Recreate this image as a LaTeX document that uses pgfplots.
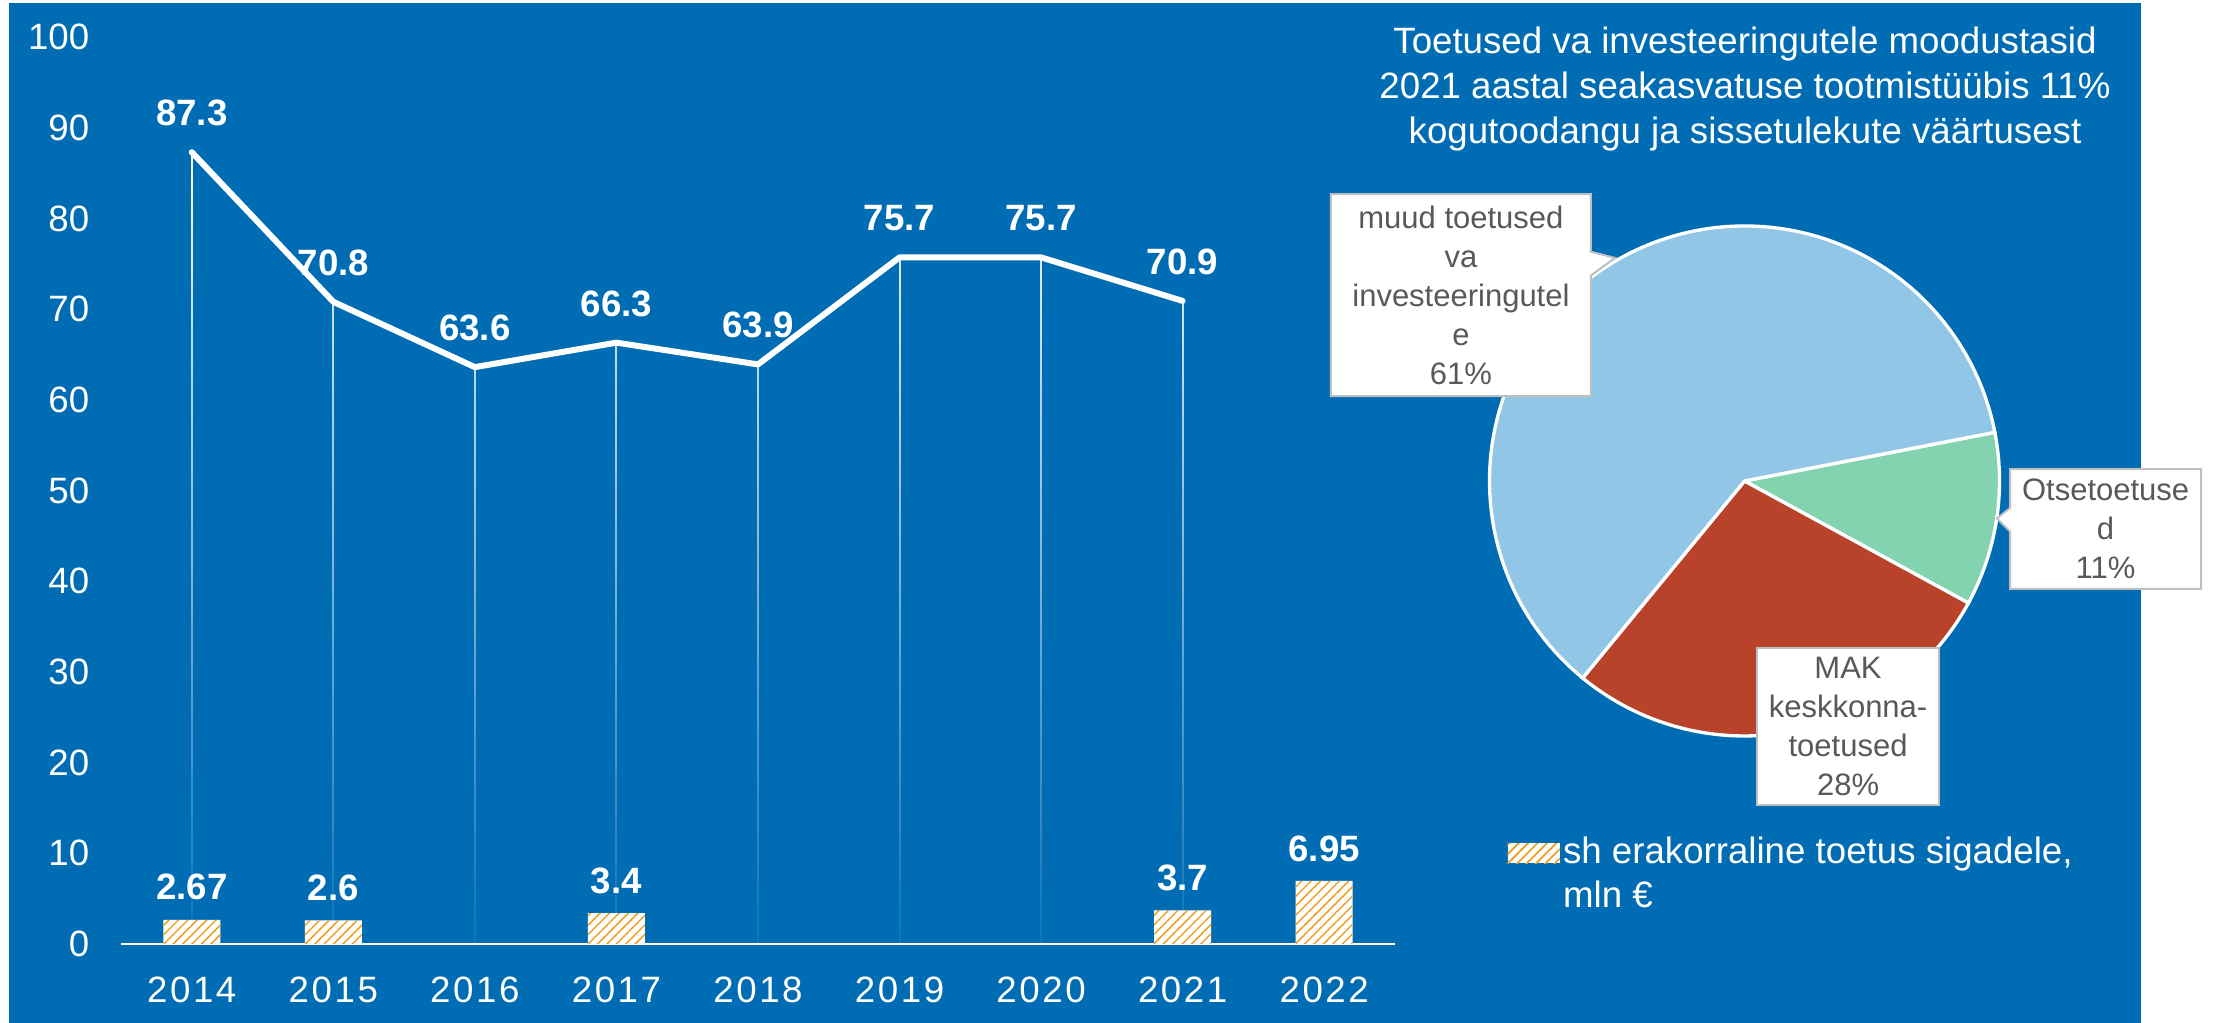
\documentclass[border=0pt]{standalone}
\usepackage{fontspec}
\setmainfont{Liberation Sans}
\newfontfamily\spacedfont[LetterSpace=7]{Liberation Sans}
\usepackage{pgfplots}
\pgfplotsset{compat=1.18}
\usetikzlibrary{patterns.meta,fadings,shapes.callouts}

\definecolor{bgblue}{RGB}{0,108,180}
\definecolor{hatch}{RGB}{240,160,40}
\definecolor{pieBlue}{RGB}{146,198,230}
\definecolor{pieGreen}{RGB}{132,211,176}
\definecolor{pieRed}{RGB}{185,67,42}
\definecolor{lblgray}{RGB}{89,89,89}
\definecolor{boxgray}{RGB}{191,191,191}

\tikzfading[name=dropfade, bottom color=transparent!95, top color=transparent!0]

\tikzset{hatchfill/.style={fill=white, postaction={pattern={Lines[angle=45,distance=2pt,line width=0.45pt]}, pattern color=hatch}}}

\begin{document}
\begin{tikzpicture}
\useasboundingbox (0,0) rectangle (666.3pt,306.9pt);
\fill[white] (0,0) rectangle (666.3pt,306.9pt);
\fill[bgblue] (2.7pt,0) rectangle (642.3pt,306pt);

\begin{axis}[
  at={(36.3pt,23.7pt)}, anchor=south west,
  scale only axis, width=382.2pt, height=272.1pt,
  xmin=-0.5, xmax=8.5, ymin=0, ymax=100,
  axis x line*=bottom, axis y line*=left,
  x axis line style={white, line width=0.7pt, -},
  y axis line style={draw=none},
  major tick length=0pt,
  xtick={0,...,8},
  xticklabels={2014,2015,2016,2017,2018,2019,2020,2021,2022},
  ytick={0,10,...,100},
  ticklabel style={text=white},
  xticklabel style={font=\spacedfont\fontsize{11}{13}\selectfont, yshift=-6.2pt},
  yticklabel style={font=\fontsize{11}{13}\selectfont, xshift=-6pt},
  /pgf/number format/assume math mode=true,
  clip=false,
  legend style={at={(1.088,0.122)}, anchor=north west, draw=none, fill=none,
    inner sep=0pt, text=white, font=\fontsize{11}{13.2}\selectfont,
    nodes={inner sep=1pt, align=left}},
  legend image code/.code={\fill[hatchfill] (0pt,3.6pt) rectangle (15.6pt,9.6pt);},
]
% drop lines
\addplot[ycomb, mark=none, white, line width=0.6pt, path fading=dropfade, forget plot]
  coordinates {(0,87.3) (1,70.8) (2,63.6) (3,66.3) (4,63.9) (5,75.7) (6,75.7) (7,70.9)};

% sh erakorraline toetus sigadele
\addplot[ybar, bar width=17.1pt, draw=none, hatchfill,
  nodes near coords,
  every node near coord/.append style={anchor=south, text=white,
    font=\bfseries\fontsize{11}{13}\selectfont, yshift=2.3pt}]
  coordinates {(0,2.67) (1,2.6) (3,3.4) (7,3.7) (8,6.95)};
\addlegendentry{sh erakorraline toetus sigadele,\\mln €}

% toetused kokku
\addplot[white, line width=1.8pt, line join=round, line cap=round, mark=none, forget plot,
  nodes near coords,
  every node near coord/.append style={anchor=south, text=white,
    font=\bfseries\fontsize{11}{13}\selectfont, yshift=3.6pt}]
  coordinates {(0,87.3) (1,70.8) (2,63.6) (3,66.3) (4,63.9) (5,75.7) (6,75.7) (7,70.9)};
\end{axis}

% pie: 2021 structure
\begin{axis}[
  at={(523.35pt,162.6pt)}, anchor=center,
  scale only axis, width=153pt, height=153pt,
  xmin=-1, xmax=1, ymin=-1, ymax=1,
  hide axis, clip=false,
]
\def\pstart{11}
\foreach \v/\c in {11/pieGreen, 28/pieRed, 61/pieBlue}{
  \pgfmathsetmacro\pend{\pstart-3.6*\v}
  \edef\temp{\noexpand\fill[\c, draw=white, line width=1pt] (axis cs:0,0) -- ++(\pstart:76.5pt)
    arc[start angle=\pstart, end angle=\pend, radius=76.5pt] -- cycle;}
  \temp
  \xdef\pstart{\pend}
}
\tikzset{pielbl/.style={draw=boxgray, line width=0.6pt, fill=white, text=lblgray,
  font=\fontsize{9.3}{11.7}\selectfont, align=center, inner sep=1pt}}
\node[pielbl, rectangle callout, minimum width=78pt, minimum height=60.6pt,
  callout absolute pointer={(axis cs:-0.508,0.875)}]
  at (axis cs:-1.112,0.729) {muud toetused\\va\\investeeringutel\\e\\61\%};
\node[pielbl, rectangle callout, minimum width=57.3pt, minimum height=35.9pt,
  callout absolute pointer={(axis cs:0.99,-0.147)}]
  at (axis cs:1.416,-0.188) {Otsetoetuse\\d\\11\%};
\node[pielbl, rectangle, minimum width=54.6pt, minimum height=47.1pt]
  at (axis cs:0.406,-0.963) {MAK\\keskkonna-\\toetused\\28\%};
\end{axis}

\node[text=white, align=center, font=\fontsize{11}{13.5}\selectfont] at (523.5pt,280.2pt)
  {Toetused va investeeringutele moodustasid\\2021 aastal seakasvatuse tootmistüübis 11\%\\kogutoodangu ja sissetulekute väärtusest};
\end{tikzpicture}
\end{document}
